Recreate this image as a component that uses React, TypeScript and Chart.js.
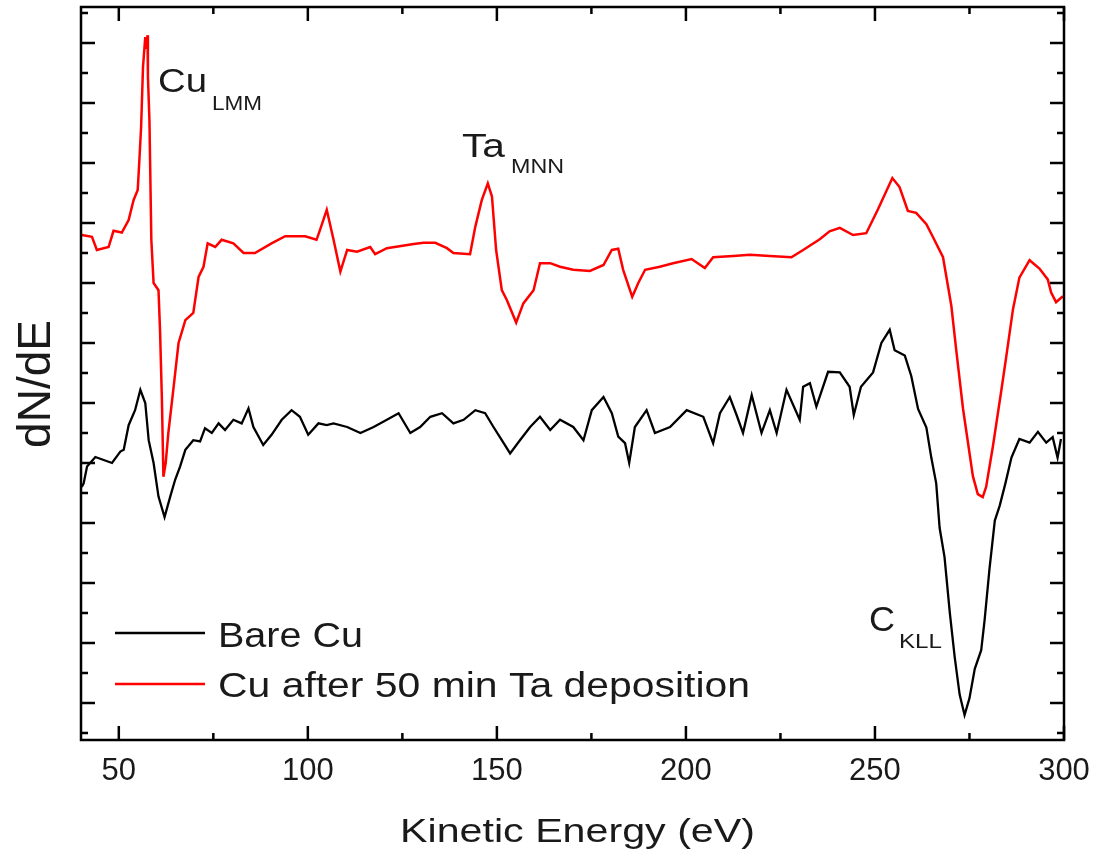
import React, { useEffect, useRef } from "react";
import { Chart, registerables } from "chart.js";

Chart.register(...registerables);

// ---------- data ----------
const bareCuEnergy = [
  40.2, 40.7, 41.6, 43.8, 46.0, 48.2, 50.4, 51.3, 52.6, 54.3, 55.7, 57.0, 57.9, 59.2, 60.5, 62.1,
  63.6, 64.9, 66.2, 67.6, 69.7, 71.5, 72.8, 74.6, 76.4, 78.1, 80.3, 82.5, 84.3, 85.6, 88.2, 90.4,
  93.1, 95.7, 97.9, 100.1, 102.8, 105.0, 106.8, 110.4, 113.9, 117.4, 120.9, 124.0, 127.1, 129.7,
  132.4, 135.5, 138.5, 141.2, 144.3, 146.9, 149.1, 151.3, 153.5, 156.1, 158.8, 161.4, 164.1, 166.7,
  170.2, 172.9, 175.1, 178.2, 180.4, 182.1, 183.9, 185.0, 186.5, 189.6, 191.8, 195.8, 200.2, 204.6,
  207.2, 209.0, 211.6, 213.4, 215.1, 217.4, 220.0, 222.2, 224.0, 226.6, 230.1, 231.0, 232.8, 234.5,
  237.6, 240.7, 243.3, 244.4, 246.3, 249.5, 251.7,
  253.9, 255.2, 257.9, 259.6, 261.4, 263.6, 264.9, 266.2, 267.1, 268.4, 269.8, 271.1, 272.4, 273.7,
  275.0, 276.4, 278.1, 279.0, 280.3, 281.7, 283.0, 284.5, 286.1, 288.2, 290.9, 293.1, 295.3, 297.0,
  298.3, 299.2,
];
const bareCuSignal = [
  3.6, 3.66, 3.94, 4.1, 4.05, 4.0, 4.19, 4.22, 4.63, 4.88, 5.22, 5.0, 4.38, 4.0, 3.44, 3.1,
  3.44, 3.72, 3.94, 4.22, 4.38, 4.36, 4.58, 4.5, 4.66, 4.55, 4.72, 4.66, 4.91, 4.6, 4.3, 4.47,
  4.72, 4.88, 4.77, 4.47, 4.66, 4.63, 4.66, 4.6, 4.5, 4.6, 4.72, 4.83, 4.5, 4.6,
  4.77, 4.83, 4.66, 4.72, 4.88, 4.83, 4.6, 4.38, 4.16, 4.38, 4.6, 4.77, 4.55, 4.72,
  4.6, 4.38, 4.88, 5.1, 4.83, 4.44, 4.33, 4.0, 4.6, 4.88, 4.5, 4.6, 4.88, 4.77,
  4.33, 4.83, 5.1, 4.8, 4.5, 5.13, 4.5, 4.88, 4.5, 5.22, 4.72, 5.27, 5.33, 4.94,
  5.52, 5.51, 5.27, 4.8, 5.27, 5.51, 6.0,
  6.22, 5.88, 5.79, 5.45, 4.9, 4.59, 4.09, 3.66, 2.92, 2.43, 1.5, 0.76, 0.14, -0.2,
  0.08, 0.57, 0.88, 1.38, 2.24, 3.04, 3.29, 3.66, 4.09, 4.4, 4.34, 4.52, 4.34, 4.43,
  4.09, 4.4,
];

const taCuEnergy = [
  40.2, 42.9, 44.2, 47.3, 48.6, 50.8, 52.6, 53.9, 55.0, 55.4, 55.9, 56.4, 57.0, 57.3, 57.6, 57.7,
  58.1, 58.6, 59.2, 60.5, 60.9, 61.4, 61.8, 62.4, 63.1, 64.5, 65.8, 67.6, 69.7, 71.1, 72.4, 73.5,
  75.5, 77.2, 80.3, 83.0, 86.0, 90.4, 94.0, 99.3, 102.3, 103.2, 105.0, 106.8, 108.6, 110.4, 113.0,
  116.5, 117.8, 120.9, 128.0, 130.6, 133.7, 136.8, 138.5, 142.9, 144.3, 146.0, 147.6, 148.7, 149.8,
  151.3, 152.6, 155.1, 157.0, 159.7, 161.4, 164.1, 166.7, 170.2, 174.6, 178.2, 180.4, 182.1, 183.4,
  185.8, 187.4, 189.2, 193.1, 196.6, 201.5, 205.0, 207.2, 212.5, 216.9, 222.2, 227.9, 231.0, 235.4,
  238.0, 240.7, 244.2, 247.7, 250.8, 254.6, 256.5, 258.7, 260.9, 263.6, 265.3, 268.0, 270.2, 271.5,
  273.3, 275.9, 277.2, 278.5, 279.4, 281.2, 283.4, 284.7, 286.5, 288.2, 290.9, 293.5, 295.7, 296.6,
  297.9, 299.7,
];
const taCuSignal = [
  7.8, 7.77, 7.55, 7.6, 7.87, 7.84, 8.05, 8.38, 8.55, 9.0, 9.6, 10.6, 11.1, 10.9, 11.13, 10.44,
  9.72, 7.72, 7.0, 6.88, 6.22, 5.05, 3.77, 4.0, 4.5, 5.27, 6.0, 6.38, 6.5, 7.1, 7.27, 7.66,
  7.6, 7.72, 7.66, 7.5, 7.5, 7.66, 7.78, 7.78, 7.72, 7.88, 8.22, 7.72, 7.19, 7.55, 7.52,
  7.6, 7.48, 7.58, 7.65, 7.67, 7.67, 7.58, 7.5, 7.48, 7.94, 8.38, 8.66, 8.44, 7.55,
  6.88, 6.72, 6.34, 6.66, 6.88, 7.33, 7.33, 7.27, 7.22, 7.2, 7.3, 7.55, 7.57, 7.22,
  6.77, 7.0, 7.22, 7.27, 7.33, 7.4, 7.25, 7.43, 7.45, 7.47, 7.45, 7.43, 7.55, 7.73,
  7.86, 7.92, 7.8, 7.83, 8.23, 8.75, 8.6, 8.2, 8.17, 7.98, 7.77, 7.43, 6.62, 5.88,
  4.9, 3.78, 3.48, 3.43, 3.6, 4.28, 5.2, 5.76, 6.56, 7.09, 7.38, 7.24, 7.06, 6.84,
  6.68, 6.78,
];

const xMajorTicks = [50, 100, 150, 200, 250, 300];
const xMinorTicks = [75, 125, 175, 225, 275];
const yMajorTicks = [0, 1, 2, 3, 4, 5, 6, 7, 8, 9, 10, 11];
const yMinorTicks = [-0.5, 0.5, 1.5, 2.5, 3.5, 4.5, 5.5, 6.5, 7.5, 8.5, 9.5, 10.5, 11.5];

const seriesLabels = ["Bare Cu", "Cu after 50 min Ta deposition"];
const seriesColors = ["#000000", "#ff0000"];
const xTitle = "Kinetic Energy (eV)";
const yTitle = "dN/dE";
const peakLabels = [
  { main: "Cu", sub: "LMM" },
  { main: "Ta", sub: "MNN" },
  { main: "C", sub: "KLL" },
];

const FONT = '"Liberation Sans", Arial, Helvetica, sans-serif';
const TEXT = "#1a1a1a";

function drawStretched(
  ctx: CanvasRenderingContext2D,
  text: string,
  left: number,
  baseline: number,
  size: number,
  width: number
) {
  ctx.save();
  ctx.font = `${size}px ${FONT}`;
  ctx.textAlign = "left";
  ctx.textBaseline = "alphabetic";
  const w = ctx.measureText(text).width;
  ctx.translate(left, baseline);
  ctx.scale(width / w, 1);
  ctx.fillText(text, 0, 0);
  ctx.restore();
}

const decorPlugin = {
  id: "decor",
  afterDraw(chart: any) {
    const ctx: CanvasRenderingContext2D = chart.ctx;
    const { left, right, top, bottom } = chart.chartArea;
    const xs = chart.scales.x;
    const ys = chart.scales.y;
    ctx.save();
    ctx.fillStyle = TEXT;
    ctx.strokeStyle = "#000";

    // frame
    ctx.lineWidth = 2.5;
    ctx.strokeRect(left, top, right - left, bottom - top);

    // inward ticks
    const MAJ = 14;
    const MIN = 7;
    ctx.lineWidth = 2.5;
    ctx.beginPath();
    const xt = (v: number, len: number) => {
      const p = xs.getPixelForValue(v);
      ctx.moveTo(p, bottom);
      ctx.lineTo(p, bottom - len);
      ctx.moveTo(p, top);
      ctx.lineTo(p, top + len);
    };
    const yt = (v: number, len: number) => {
      const p = ys.getPixelForValue(v);
      ctx.moveTo(left, p);
      ctx.lineTo(left + len, p);
      ctx.moveTo(right, p);
      ctx.lineTo(right - len, p);
    };
    xMajorTicks.forEach((v) => xt(v, MAJ));
    xMinorTicks.forEach((v) => xt(v, MIN));
    yMajorTicks.forEach((v) => yt(v, MAJ));
    yMinorTicks.forEach((v) => yt(v, MIN));
    ctx.stroke();

    // x tick labels
    ctx.font = `31px ${FONT}`;
    ctx.textAlign = "center";
    ctx.textBaseline = "alphabetic";
    xMajorTicks.forEach((v) => {
      ctx.fillText(String(v), xs.getPixelForValue(v), 780);
    });

    // axis titles
    drawStretched(ctx, xTitle, 400, 842, 33, 355);
    ctx.save();
    ctx.font = `46px ${FONT}`;
    ctx.textAlign = "center";
    ctx.textBaseline = "alphabetic";
    ctx.translate(50, 384);
    ctx.rotate(-Math.PI / 2);
    ctx.fillText(yTitle, 0, 0);
    ctx.restore();

    // legend
    const legendRows = [
      { y: 633, base: 647, width: 145 },
      { y: 684, base: 697, width: 532 },
    ];
    legendRows.forEach((r, i) => {
      ctx.strokeStyle = seriesColors[i];
      ctx.lineWidth = 2.5;
      ctx.beginPath();
      ctx.moveTo(115, r.y);
      ctx.lineTo(205, r.y);
      ctx.stroke();
      ctx.fillStyle = TEXT;
      drawStretched(ctx, seriesLabels[i], 218, r.base, 35, r.width);
    });

    // peak annotations
    const ann = [
      { mx: 158, mb: 92, mw: 49, ms: 33, sx: 212, sb: 110, sw: 50 },
      { mx: 462, mb: 157, mw: 43, ms: 34, sx: 511, sb: 173, sw: 53 },
      { mx: 869, mb: 631, mw: 26, ms: 35, sx: 899, sb: 648, sw: 43 },
    ];
    ann.forEach((a, i) => {
      ctx.fillStyle = TEXT;
      drawStretched(ctx, peakLabels[i].main, a.mx, a.mb, a.ms, a.mw);
      drawStretched(ctx, peakLabels[i].sub, a.sx, a.sb, 21, a.sw);
    });
    ctx.restore();
  },
};

export default function App() {
  const ref = useRef<HTMLCanvasElement | null>(null);
  useEffect(() => {
    if (!ref.current) return;
    const toPts = (xs: number[], ys: number[]) => xs.map((x, i) => ({ x, y: ys[i] }));
    const chart = new Chart(ref.current, {
      type: "line",
      data: {
        datasets: [
          {
            label: seriesLabels[1],
            data: toPts(taCuEnergy, taCuSignal),
            borderColor: seriesColors[1],
            borderWidth: 2.5,
            pointRadius: 0,
            tension: 0,
            fill: false,
          },
          {
            label: seriesLabels[0],
            data: toPts(bareCuEnergy, bareCuSignal),
            borderColor: seriesColors[0],
            borderWidth: 2.3,
            pointRadius: 0,
            tension: 0,
            fill: false,
          },
        ],
      },
      options: {
        responsive: false,
        animation: false,
        devicePixelRatio: 1,
        layout: { padding: { left: 81, right: 35, top: 7, bottom: 114 } },
        plugins: { legend: { display: false }, tooltip: { enabled: false } },
        scales: {
          x: { type: "linear", min: 40, max: 300, display: false },
          y: { type: "linear", min: -0.617, max: 11.6, display: false },
        },
      },
      plugins: [decorPlugin],
    });
    return () => chart.destroy();
  }, []);
  return (
    <div style={{ position: "fixed", left: 0, top: 0, width: 1099, height: 854, background: "#fff" }}>
      <canvas ref={ref} width={1099} height={854} style={{ width: 1099, height: 854, display: "block" }} />
    </div>
  );
}
